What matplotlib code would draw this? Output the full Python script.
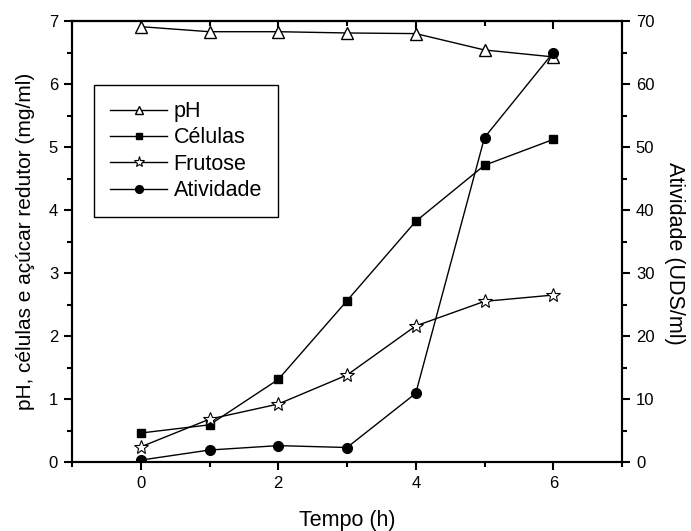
import matplotlib
matplotlib.use("Agg")
import matplotlib.pyplot as plt
from matplotlib.ticker import MultipleLocator

plt.rcParams['font.family'] = ['Liberation Sans', 'DejaVu Sans']

tempo = [0, 1, 2, 3, 4, 5, 6]
ph = [6.91, 6.83, 6.83, 6.81, 6.80, 6.54, 6.43]
celulas = [0.46, 0.59, 1.31, 2.56, 3.82, 4.71, 5.12]
frutose = [0.24, 0.68, 0.92, 1.38, 2.16, 2.55, 2.65]
atividade = [0.3, 1.9, 2.6, 2.3, 10.9, 51.5, 65.0]

labels = ["pH", "Células", "Frutose", "Atividade"]
xlabel = "Tempo (h)"
ylabel_left = "pH, células e açúcar redutor (mg/ml)"
ylabel_right = "Atividade (UDS/ml)"

fig = plt.figure(figsize=(6.91, 5.31), dpi=100)
ax = fig.add_axes([72/691, 1 - 462/531, 550/691, 441/531])
ax2 = ax.twinx()

lw = 1.0
mew = 1.0
l1, = ax.plot(tempo, ph, color='black', lw=lw, marker='^', ms=8, mfc='white', mec='black', mew=mew)
l2, = ax.plot(tempo, celulas, color='black', lw=lw, marker='s', ms=6, mfc='black', mec='black', mew=mew)
l3, = ax.plot(tempo, frutose, color='black', lw=lw, marker='*', ms=10, mfc='white', mec='black', mew=0.8)
l4, = ax2.plot(tempo, atividade, color='black', lw=lw, marker='o', ms=7, mfc='black', mec='black', mew=mew)

ax.set_xlim(-1, 7)
ax.set_ylim(0, 7)
ax2.set_ylim(0, 70)

ax.xaxis.set_major_locator(MultipleLocator(2))
ax.xaxis.set_minor_locator(MultipleLocator(1))
ax.yaxis.set_major_locator(MultipleLocator(1))
ax.yaxis.set_minor_locator(MultipleLocator(0.5))
ax2.yaxis.set_major_locator(MultipleLocator(10))
ax2.yaxis.set_minor_locator(MultipleLocator(5))

for a in (ax, ax2):
    for s in a.spines.values():
        s.set_linewidth(1.5)

ax.tick_params(axis='both', which='major', direction='out', length=6, width=1.5, labelsize=12, pad=4)
ax.tick_params(axis='both', which='minor', direction='out', length=3.5, width=1.5)
ax2.tick_params(axis='y', which='major', direction='out', length=6, width=1.5, labelsize=12, pad=4)
ax2.tick_params(axis='y', which='minor', direction='out', length=3.5, width=1.5)

top = ax.secondary_xaxis('top')
top.xaxis.set_major_locator(MultipleLocator(2))
top.xaxis.set_minor_locator(MultipleLocator(1))
top.tick_params(axis='x', which='major', direction='in', length=6, width=1.5, labeltop=False)
top.tick_params(axis='x', which='minor', direction='in', length=3.5, width=1.5)
top.spines['top'].set_linewidth(1.5)

ax.set_xlabel(xlabel, fontsize=15.5, labelpad=14)
ax.set_ylabel(ylabel_left, fontsize=15, labelpad=10)
ax2.set_ylabel(ylabel_right, fontsize=15.5, rotation=270, labelpad=22)
ax2.yaxis.label.set_y(0.472)

leg = ax2.legend([l1, l2, l3, l4], labels, loc='upper left', bbox_to_anchor=(0.04, 0.855),
                 borderaxespad=0, fontsize=15.5, handlelength=2.65, handletextpad=0.3,
                 borderpad=0.75, labelspacing=0.25, markerscale=0.8, fancybox=False,
                 framealpha=1, edgecolor='black')
leg.get_frame().set_linewidth(1.0)

fig.savefig("out.png", dpi=100)
